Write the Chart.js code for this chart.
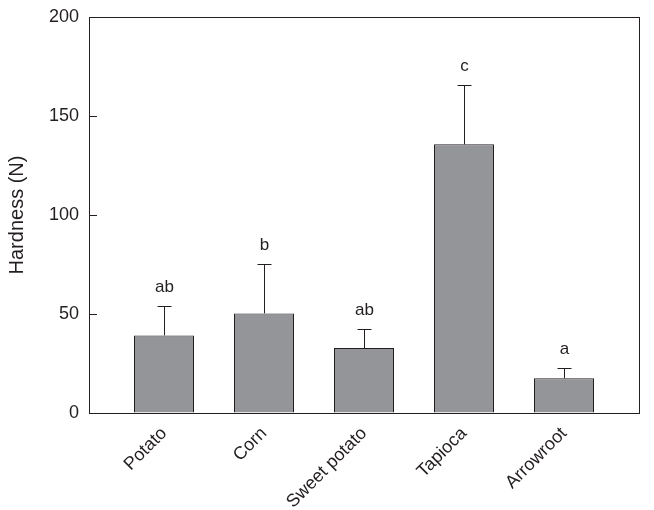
<!DOCTYPE html>
<html>
<head>
<meta charset="utf-8">
<script src="https://cdn.jsdelivr.net/npm/chart.js@4"></script>
<style>
  body { margin: 0; background: #fff; }
  canvas { display: block; }
</style>
</head>
<body>
<canvas id="myChart" width="654" height="510"></canvas>
<script>
const categories = ['Potato', 'Corn', 'Sweet potato', 'Tapioca', 'Arrowroot'];
const hardness = [39.2, 50.3, 32.8, 135.7, 17.5];
const errors = [14.7, 24.9, 9.6, 30.0, 5.1];
const letters = ['ab', 'b', 'ab', 'c', 'a'];
const yTicks = [0, 50, 100, 150, 200];

const ink = '#231f20';
const font = 'Arial, "Liberation Sans", sans-serif';

// error bars, significance letters, frame and inward ticks
const extras = {
  id: 'extras',
  afterDatasetsDraw(chart) {
    const ctx = chart.ctx;
    const y = chart.scales.y;
    const area = chart.chartArea;
    const meta = chart.getDatasetMeta(0);
    ctx.save();
    ctx.strokeStyle = ink;
    ctx.lineWidth = 1;
    meta.data.forEach((bar, i) => {
      const top = y.getPixelForValue(hardness[i] + errors[i]);
      const base = y.getPixelForValue(hardness[i]);
      const x = Math.round(bar.x) + 0.5;
      ctx.beginPath();
      ctx.moveTo(x, base);
      ctx.lineTo(x, Math.round(top) + 0.5);
      ctx.moveTo(x - 7, Math.round(top) + 0.5);
      ctx.lineTo(x + 7, Math.round(top) + 0.5);
      ctx.stroke();
      ctx.fillStyle = ink;
      ctx.font = '17px ' + font;
      ctx.textAlign = 'center';
      ctx.textBaseline = 'middle';
      ctx.fillText(letters[i], x, top - 19);
    });
    // frame
    ctx.strokeRect(Math.round(area.left) + 0.5, Math.round(area.top) + 0.5,
      Math.round(area.right - area.left), Math.round(area.bottom - area.top));
    // inward y ticks
    yTicks.forEach(v => {
      const py = Math.round(y.getPixelForValue(v)) + 0.5;
      ctx.beginPath();
      ctx.moveTo(area.left, py);
      ctx.lineTo(area.left + 8, py);
      ctx.stroke();
    });
    ctx.restore();
  }
};

new Chart(document.getElementById('myChart'), {
  type: 'bar',
  data: {
    datasets: [{
      data: categories.map((c, i) => ({ x: i + 1, y: hardness[i] })),
      backgroundColor: '#939598',
      borderColor: ink,
      borderWidth: 1,
      barPercentage: 0.6,
      categoryPercentage: 1.0
    }]
  },
  options: {
    responsive: false,
    animation: false,
    layout: { padding: { top: 17, right: 15, left: 0, bottom: 0 } },
    plugins: {
      legend: { display: false },
      tooltip: { enabled: false }
    },
    scales: {
      x: {
        type: 'linear',
        offset: false,
        min: 0.25,
        max: 5.75,
        afterBuildTicks: scale => {
          scale.ticks = categories.map((c, i) => ({ value: i + 1 }));
        },
        afterFit: scale => {
          scale.height = 97;
          scale.paddingLeft = 0;
          scale.paddingRight = 0;
        },
        grid: { display: true, drawOnChartArea: false, drawTicks: false },
        border: { display: false },
        ticks: {
          autoSkip: false,
          maxRotation: 45,
          minRotation: 45,
          padding: 10,
          color: ink,
          font: { family: font, size: 18 },
          callback: v => categories[v - 1] || ''
        }
      },
      y: {
        min: 0,
        max: 200,
        afterFit: scale => {
          scale.width = 89;
          scale.paddingTop = 0;
          scale.paddingBottom = 0;
        },
        grid: { display: true, drawOnChartArea: false, drawTicks: false },
        border: { display: false },
        ticks: {
          stepSize: 50,
          padding: 10,
          color: ink,
          font: { family: font, size: 18 }
        },
        title: {
          display: true,
          text: 'Hardness (N)',
          color: ink,
          font: { family: font, size: 20 },
          padding: { top: 5, bottom: 0 }
        }
      }
    }
  },
  plugins: [extras]
});
</script>
</body>
</html>
